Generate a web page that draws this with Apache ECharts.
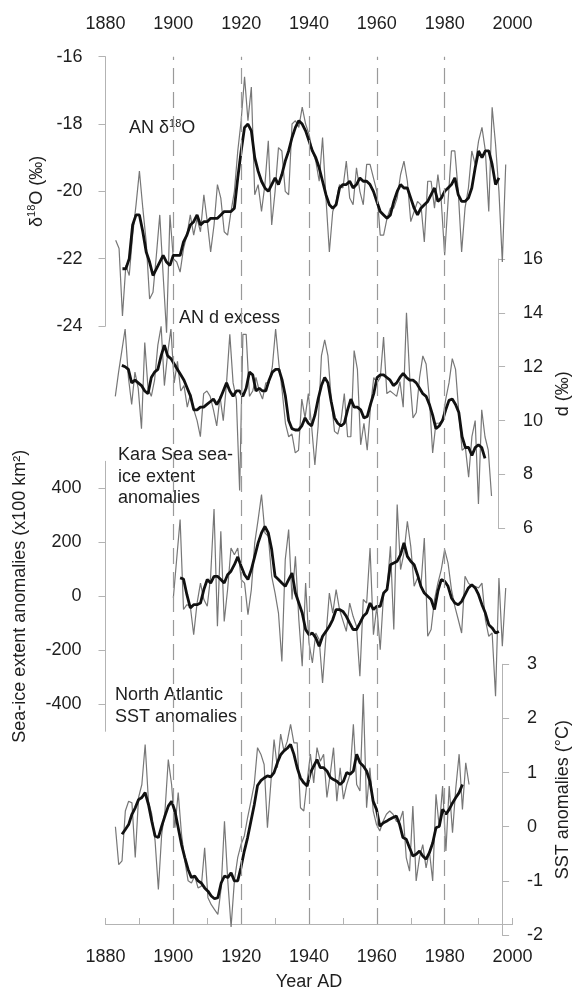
<!DOCTYPE html>
<html><head><meta charset="utf-8">
<script src="https://cdn.jsdelivr.net/npm/echarts@6/dist/echarts.min.js"></script>
<style>html,body{margin:0;padding:0;background:#fff}#c{width:580px;height:996px}</style>
</head><body><div id="c"></div>
<script>
// ---------- data ----------
const xTickStart = 1880, xTickEnd = 2000, xTickStep = 20;
const dashYears = [1900, 1920, 1940, 1960, 1980];

const d18OStart = 1883;
const d18O = [
-21.45,-21.7,-23.7,-22.2,-22.5,-21.3,-20.4,-19.4,-20.5,-21.5,
-23.2,-23.0,-21.9,-20.7,-22.5,-24.2,-20.7,-22.0,-22.1,-22.4,
-21.7,-21.3,-20.7,-21.3,-20.8,-21.2,-20.1,-20.9,-21.8,-21.0,
-19.8,-20.2,-21.2,-21.3,-20.6,-20.0,-18.8,-17.9,-16.6,-17.9,
-16.9,-20.1,-19.8,-20.6,-19.8,-18.5,-21.0,-20.0,-18.7,-18.8,
-20.0,-20.1,-18.0,-17.9,-18.1,-17.5,-18.0,-18.3,-18.8,-19.1,
-19.7,-18.4,-20.2,-21.8,-20.6,-20.3,-19.8,-19.9,-19.1,-20.2,
-20.4,-19.3,-20.0,-20.4,-19.2,-19.2,-19.6,-20.0,-21.3,-21.3,
-20.8,-20.5,-20.5,-20.2,-19.5,-19.1,-19.7,-20.9,-20.6,-20.3,
-20.4,-21.5,-19.7,-19.7,-20.5,-19.5,-20.3,-21.9,-20.3,-18.8,
-18.8,-20.0,-21.8,-20.5,-19.9,-18.8,-19.2,-18.5,-18.1,-18.8,
-20.6,-17.5,-18.6,-20.0,-22.1,-19.2];
const d18OSmoothStart = 1885;
const d18OSmooth = [
-22.3,-22.3,-22.0,-21.0,-20.7,-20.7,-21.2,-21.8,-22.1,-22.5,
-22.3,-22.1,-21.9,-22.1,-22.2,-21.9,-21.9,-21.9,-21.5,-21.3,
-21.0,-20.9,-20.7,-21.0,-20.9,-20.9,-20.8,-20.8,-20.8,-20.7,
-20.6,-20.6,-20.6,-20.5,-19.6,-18.8,-18.1,-18.0,-18.2,-19.0,
-19.4,-19.7,-19.9,-20.0,-19.8,-19.6,-19.8,-19.5,-19.1,-18.8,
-18.4,-18.1,-17.9,-18.0,-18.2,-18.5,-18.8,-19.0,-19.3,-19.7,
-20.1,-20.4,-20.5,-20.4,-19.9,-19.8,-19.8,-19.7,-19.9,-19.8,
-19.6,-19.7,-19.7,-19.8,-20.0,-20.3,-20.6,-20.7,-20.8,-20.7,
-20.3,-20.0,-19.8,-19.9,-19.9,-20.2,-20.5,-20.7,-20.5,-20.4,
-20.3,-20.1,-19.9,-20.3,-20.2,-20.0,-19.9,-19.8,-19.6,-20.1,
-20.3,-20.3,-20.2,-19.9,-19.3,-18.8,-19.0,-18.8,-18.8,-19.2,
-19.8,-19.6];

const dExStart = 1883;
const dEx = [
10.9,11.8,12.6,13.4,11.6,10.6,11.8,11.2,9.7,12.9,
11.2,10.9,11.5,12.8,13.5,11.3,12.5,13.4,11.4,12.2,
11.1,11.3,10.5,11.0,10.4,10.0,9.4,11.0,11.1,10.9,
10.4,9.8,10.9,10.0,11.4,13.2,11.4,10.8,7.4,13.2,
13.2,10.9,11.1,11.6,11.1,10.8,11.4,11.4,12.0,13.4,
12.1,11.1,9.9,9.4,9.5,8.8,8.9,10.8,10.1,11.0,
9.8,8.35,9.8,12.4,13.0,12.4,10.8,9.6,9.5,10.0,
11.0,9.4,9.4,12.6,11.9,9.1,9.9,8.9,10.5,11.6,
11.4,11.6,13.1,11.0,11.1,11.0,10.9,11.45,10.5,14.0,
11.6,10.1,10.3,11.6,12.4,12.1,10.8,8.8,9.9,9.9,
10.0,10.8,11.4,12.3,11.9,10.3,8.9,9.0,7.9,9.4,
10.0,6.9,10.4,9.4,8.9,7.2];
const dExSmoothStart = 1885;
const dExSmooth = [
12.05,12.0,11.9,11.4,11.5,11.4,11.3,11.1,11.0,11.6,
11.8,11.9,12.4,12.8,12.4,12.3,12.1,11.9,11.7,11.5,
11.2,10.9,10.4,10.4,10.5,10.5,10.6,10.7,10.8,10.6,
10.8,11.1,11.4,11.1,10.9,11.1,11.1,10.9,11.2,11.8,
11.7,11.1,11.2,11.1,11.1,11.5,11.8,11.9,11.9,11.5,
10.9,10.0,9.7,9.65,9.65,9.8,10.1,9.9,9.8,10.2,
10.8,11.3,11.6,11.4,10.7,10.1,9.9,9.8,9.9,10.4,
10.8,10.5,10.5,10.4,10.1,10.15,10.6,11.0,11.6,11.7,
11.7,11.6,11.5,11.3,11.4,11.6,11.75,11.6,11.5,11.5,
11.4,11.2,11.0,10.9,10.6,10.2,9.7,9.8,10.0,10.4,
10.75,10.8,10.6,10.3,9.4,9.0,9.0,8.7,9.0,9.1,
9.0,8.6];

const iceStart = 1900;
const ice = [
-6,140,284,-49,-31,-37,-142,-25,49,-12,
-37,74,323,-111,241,-93,25,179,154,179,
62,49,-68,25,198,284,377,235,222,74,
12,-62,-241,136,247,-12,148,-86,-259,49,
-173,-247,-136,-160,-321,-148,12,-62,25,-49,
-90,-130,-25,-74,-111,-296,-12,-25,179,-142,
-37,-198,12,25,185,-123,340,99,160,278,
185,37,68,37,216,-148,-123,-12,49,99,
173,123,25,-37,-86,-136,74,49,37,37,
31,49,-86,-148,-136,-370,68,-185,31];
const iceSmoothStart = 1902;
const iceSmooth = [
68,64,6,-43,-31,-31,-25,25,
62,49,74,74,62,49,80,93,117,146,
111,80,62,99,148,198,235,259,235,173,
74,62,49,37,62,86,12,-25,-62,-123,
-142,-136,-154,-185,-148,-130,-111,-86,-49,-49,
-56,-74,-99,-123,-123,-99,-74,-62,-25,-49,
-37,-37,12,25,117,123,130,154,198,148,
130,117,80,37,12,0,-12,-49,19,62,
56,37,-6,-25,-31,-19,6,31,43,31,
6,-31,-62,-105,-117,-136,-130];
const iceTicks = [-400, -200, 0, 200, 400];

const sstStart = 1883;
const sst = [
0.0,-0.70,-0.63,0.29,0.47,0.44,-0.57,0.54,0.78,1.52,
0.47,0.23,-0.26,-1.16,-0.14,0.29,1.24,0.78,-0.02,0.63,
-0.14,-0.63,-1.0,-1.04,-0.91,-1.13,-1.1,-0.39,-1.31,-1.44,
-1.53,-1.62,-1.13,0.10,-1.0,-1.85,-1.0,-0.57,-0.33,-0.17,
0.17,0.47,0.78,1.46,1.34,1.15,-0.02,0.78,1.61,1.09,
1.71,1.40,1.58,1.89,1.55,1.55,0.35,0.29,0.84,1.34,
0.81,1.46,1.21,1.34,0.54,0.97,1.46,0.47,1.09,0.51,
0.78,0.97,1.89,0.78,0.66,2.45,0.35,1.09,0.29,0.04,
-0.08,0.10,0.23,0.29,0.23,0.10,0.10,0.29,-0.57,-0.82,
0.38,-1.0,-0.57,-0.33,-0.76,-0.45,-1.0,0.60,-0.02,0.75,
-0.45,0.75,-0.11,0.72,1.34,0.32,1.18,0.78];
const sstSmoothStart = 1885;
const sstSmooth = [
-0.14,-0.05,0.04,0.23,0.35,0.50,0.54,0.63,0.41,0.10,
-0.17,-0.20,0.01,0.20,0.38,0.47,0.29,-0.02,-0.33,-0.57,
-0.79,-0.94,-0.91,-1.0,-1.04,-1.13,-1.19,-1.28,-1.33,-1.31,
-1.04,-0.91,-0.94,-0.85,-1.0,-1.0,-0.75,-0.45,-0.2,0.1,
0.4,0.76,0.85,0.9,0.94,0.92,1.0,1.18,1.33,1.4,
1.45,1.52,1.34,1.09,0.90,0.81,0.75,1.0,1.12,1.24,
1.09,1.09,1.03,0.91,0.87,0.84,0.78,0.84,1.0,0.97,
1.03,1.34,1.18,1.12,1.03,0.84,0.47,0.32,0.01,0.07,
0.10,0.14,0.17,0.20,0.04,-0.20,-0.23,-0.39,-0.54,-0.51,
-0.45,-0.54,-0.60,-0.48,-0.30,-0.02,0.01,0.32,0.23,0.32,
0.44,0.54,0.63,0.78];

// ---------- chart ----------
const F = '"Liberation Sans", Arial, Helvetica, sans-serif';
const TXT = '#1e1e1e';
const AX = '#b3b3b3';
const GRAY = '#777777';
const BLACK = '#111111';
const pairs = (start, arr) => arr.map((v, i) => [start + i, v]);
const plain = v => String(v);

const L = 105.5, R = 67.5;
const grids = [
  {left: L, right: R, top: 56.7, height: 269.3},
  {left: L, right: R, top: 259, height: 269.3},
  {left: L, right: R, top: 461.3, height: 270},
  {left: L, right: R, top: 664.3, height: 270.7},
  {left: L, right: R, top: 56.7, height: 878.3}
];

const hiddenX = i => ({gridIndex: i, type: 'value', min: xTickStart, max: xTickEnd, show: false});
const axLine = {show: true, lineStyle: {color: AX, width: 1}};
const labelStyle = {color: TXT, fontSize: 18, fontFamily: F, formatter: plain};
const supRich = {
  n: {fontSize: 18, fontFamily: F, color: TXT, lineHeight: 20},
  s: {fontSize: 11, fontFamily: F, color: TXT, lineHeight: 11, verticalAlign: 'top'}
};

function yAx(idx, pos, min, max, interval, name, gap, extra) {
  return Object.assign({
    gridIndex: idx, type: 'value', position: pos, min: min, max: max, interval: interval,
    axisLine: axLine,
    axisTick: {show: true, length: 7, lineStyle: {color: AX}},
    axisLabel: Object.assign({margin: pos === 'left' ? 23 : 25, align: pos === 'left' ? 'right' : 'left'}, labelStyle),
    splitLine: {show: false},
    name: name, nameLocation: 'middle', nameGap: gap, nameRotate: 90,
    nameTextStyle: {color: TXT, fontSize: 18, fontFamily: F, rich: supRich}
  }, extra || {});
}

const option = {
  animation: false,
  backgroundColor: '#ffffff',
  grid: grids,
  xAxis: [
    hiddenX(0), hiddenX(1), hiddenX(2), hiddenX(3),
    {
      gridIndex: 4, type: 'value', position: 'top', min: xTickStart, max: xTickEnd, interval: xTickStep,
      axisLine: axLine,
      axisTick: {show: true, length: 6, lineStyle: {color: AX}},
      minorTick: {show: true, splitNumber: 2, length: 6, lineStyle: {color: AX}},
      axisLabel: Object.assign({margin: 24}, labelStyle),
      splitLine: {show: false}
    },
    {
      gridIndex: 4, type: 'value', position: 'bottom', min: xTickStart, max: xTickEnd, interval: xTickStep,
      axisLine: axLine,
      axisTick: {show: true, inside: true, length: 6, lineStyle: {color: AX}},
      minorTick: {show: true, splitNumber: 2, length: 6, lineStyle: {color: AX}},
      axisLabel: Object.assign({margin: 24}, labelStyle),
      splitLine: {show: false},
      name: 'Year AD', nameLocation: 'middle', nameGap: 49,
      nameTextStyle: {color: TXT, fontSize: 18, fontFamily: F}
    }
  ],
  yAxis: [
    yAx(0, 'left', -24, -16, 2, '{n|δ}{s|18}{n|O (‰)}', 56),
    yAx(1, 'right', 6, 16, 2, 'd (‰)', 52),
    yAx(2, 'left', -500, 500, 100, 'Sea-ice extent anomalies (x100 km²)', 76, {
      axisTick: {show: true, length: 7, lineStyle: {color: AX}, customValues: iceTicks},
      axisLabel: Object.assign({margin: 24, align: 'right', customValues: iceTicks}, labelStyle)
    }),
    yAx(3, 'right', -2, 3, 1, 'SST anomalies (°C)', 48),
    {gridIndex: 4, type: 'value', min: 0, max: 1, show: false}
  ],
  graphic: [
    {type: 'text', x: 129, y: 128, silent: true, style: {
      text: '{n|AN δ}{s|18}{n|O}', verticalAlign: 'middle',
      rich: {n: {fontSize: 18, fontFamily: F, fill: TXT, lineHeight: 20},
             s: {fontSize: 11, fontFamily: F, fill: TXT, lineHeight: 11, verticalAlign: 'top'}}}},
    {type: 'text', x: 179, y: 317.7, silent: true, style: {
      text: 'AN d excess', fontSize: 18, fontFamily: F, fill: TXT, verticalAlign: 'middle'}},
    {type: 'text', x: 118, y: 444.2, silent: true, style: {
      text: 'Kara Sea sea-\nice extent\nanomalies', fontSize: 18, fontFamily: F, fill: TXT,
      lineHeight: 21.7, verticalAlign: 'top'}},
    {type: 'text', x: 115, y: 684.2, silent: true, style: {
      text: 'North Atlantic\nSST anomalies', fontSize: 18, fontFamily: F, fill: TXT,
      lineHeight: 21.7, verticalAlign: 'top'}}
  ],
  series: [
    {type: 'line', xAxisIndex: 5, yAxisIndex: 4, data: [], symbol: 'none', silent: true,
     markLine: {silent: true, symbol: 'none', label: {show: false},
       lineStyle: {color: '#9a9a9a', width: 1.2, type: [16, 8]},
       data: dashYears.map(y => ({xAxis: y}))}},
    {type: 'line', xAxisIndex: 0, yAxisIndex: 0, data: pairs(d18OStart, d18O), symbol: 'none', clip: false,
     lineStyle: {color: GRAY, width: 1.2}, z: 3},
    {type: 'line', xAxisIndex: 1, yAxisIndex: 1, data: pairs(dExStart, dEx), symbol: 'none', clip: false,
     lineStyle: {color: GRAY, width: 1.2}, z: 3},
    {type: 'line', xAxisIndex: 2, yAxisIndex: 2, data: pairs(iceStart, ice), symbol: 'none', clip: false,
     lineStyle: {color: GRAY, width: 1.2}, z: 3},
    {type: 'line', xAxisIndex: 3, yAxisIndex: 3, data: pairs(sstStart, sst), symbol: 'none', clip: false,
     lineStyle: {color: GRAY, width: 1.2}, z: 3},
    {type: 'line', xAxisIndex: 0, yAxisIndex: 0, data: pairs(d18OSmoothStart, d18OSmooth), symbol: 'none', clip: false,
     lineStyle: {color: BLACK, width: 2.8}, z: 4},
    {type: 'line', xAxisIndex: 1, yAxisIndex: 1, data: pairs(dExSmoothStart, dExSmooth), symbol: 'none', clip: false,
     lineStyle: {color: BLACK, width: 2.8}, z: 4},
    {type: 'line', xAxisIndex: 2, yAxisIndex: 2, data: pairs(iceSmoothStart, iceSmooth), symbol: 'none', clip: false,
     lineStyle: {color: BLACK, width: 2.8}, z: 4},
    {type: 'line', xAxisIndex: 3, yAxisIndex: 3, data: pairs(sstSmoothStart, sstSmooth), symbol: 'none', clip: false,
     lineStyle: {color: BLACK, width: 2.8}, z: 4}
  ]
};

const chart = echarts.init(document.getElementById('c'), null, {renderer: 'canvas'});
chart.setOption(option);
</script>
</body></html>
